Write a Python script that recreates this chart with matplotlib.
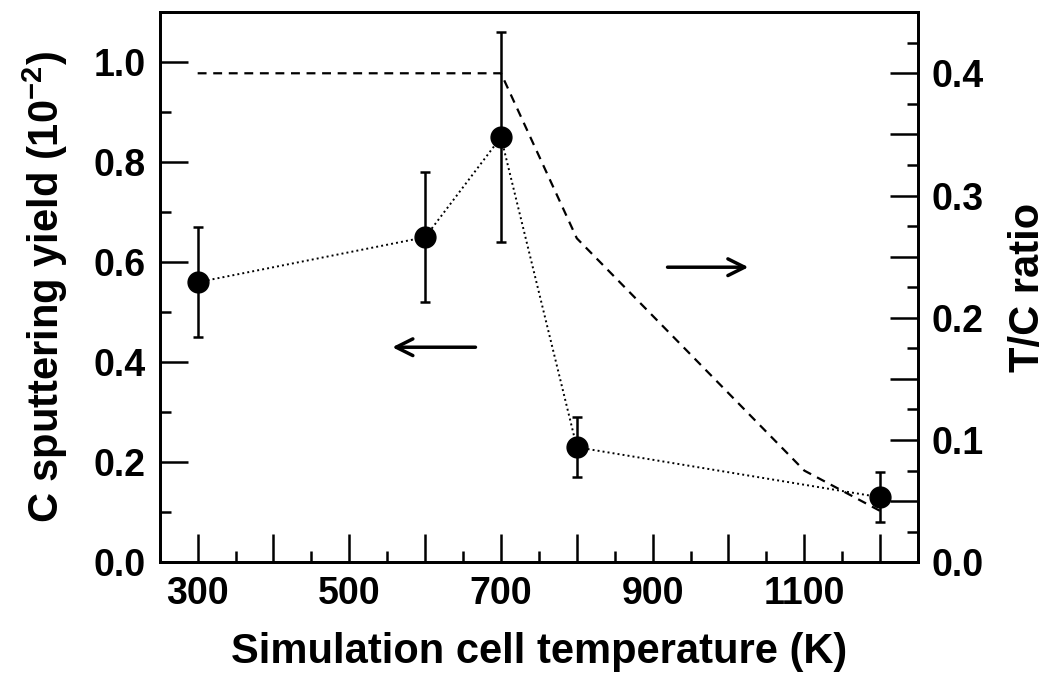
import matplotlib
matplotlib.use("Agg")
import matplotlib.pyplot as plt
from matplotlib.ticker import MultipleLocator, FuncFormatter

# sputtering yield (left axis, units of 1e-2)
temps = [300, 600, 700, 800, 1200]
yields = [0.56, 0.65, 0.85, 0.23, 0.13]
err_lo = [0.11, 0.13, 0.21, 0.06, 0.05]
err_hi = [0.11, 0.13, 0.21, 0.06, 0.05]

# T/C ratio (right axis)
tc_temps = [300, 700, 800, 1100, 1200]
tc_ratio = [0.40, 0.40, 0.265, 0.075, 0.042]

plt.rcParams["font.family"] = ["Liberation Sans", "DejaVu Sans"]
plt.rcParams["font.weight"] = "bold"
plt.rcParams["mathtext.fontset"] = "custom"
plt.rcParams["mathtext.rm"] = "Liberation Sans:bold"
plt.rcParams["mathtext.bf"] = "Liberation Sans:bold"
plt.rcParams["axes.unicode_minus"] = False

fig = plt.figure(figsize=(10.51, 6.75), dpi=100)
ax = fig.add_axes([0.152, 0.167, 0.7215, 0.815])
ax2 = ax.twinx()

ax.errorbar(temps, yields, yerr=[err_lo, err_hi], fmt="o", color="black",
            ms=15, ecolor="black", elinewidth=1.8, capsize=3.5, capthick=1.8,
            zorder=5)
ax.plot(temps, yields, linestyle=(0, (1, 1.6)), color="black", lw=1.4, zorder=4)

ax2.plot(tc_temps, tc_ratio, linestyle=(0, (4, 3)), color="black", lw=1.6)

ax.set_xlim(250, 1250)
ax.set_ylim(0, 1.1)
ax2.set_ylim(0, 0.45)

ax.xaxis.set_major_locator(MultipleLocator(100))
ax.xaxis.set_minor_locator(MultipleLocator(50))
ax.xaxis.set_major_formatter(FuncFormatter(
    lambda v, p: "%d" % v if int(round(v)) % 200 == 100 else ""))
ax.yaxis.set_major_locator(MultipleLocator(0.2))
ax.yaxis.set_minor_locator(MultipleLocator(0.1))
ax.yaxis.set_major_formatter(FuncFormatter(lambda v, p: "%.1f" % v))
ax2.yaxis.set_major_locator(MultipleLocator(0.05))
ax2.yaxis.set_minor_locator(MultipleLocator(0.025))
ax2.yaxis.set_major_formatter(FuncFormatter(
    lambda v, p: "%.1f" % v if int(round(v * 100)) % 10 == 0 else ""))

for a in (ax, ax2):
    a.tick_params(which="major", direction="in", length=20, width=1.8,
                  labelsize=27, pad=10)
    a.tick_params(which="minor", direction="in", length=8, width=1.8)
    for s in a.spines.values():
        s.set_linewidth(2)
ax.tick_params(axis="y", which="both", right=False)
ax.tick_params(axis="x", which="both", top=False)

ax.set_xlabel("Simulation cell temperature (K)", fontsize=30, fontweight="bold",
              labelpad=14)
ax.set_ylabel("C sputtering yield (10$^{-2}$)", fontsize=30,
              fontweight="bold", labelpad=17)
ax2.set_ylabel("T/C ratio", fontsize=30, fontweight="bold", labelpad=17)

ax.annotate("", xy=(553, 0.43), xytext=(670, 0.43),
            arrowprops=dict(arrowstyle="->", lw=2.5, color="black",
                            mutation_scale=30))
ax.annotate("", xy=(1030, 0.59), xytext=(916, 0.59),
            arrowprops=dict(arrowstyle="->", lw=2.5, color="black",
                            mutation_scale=30))

fig.savefig("out.png", dpi=100)
